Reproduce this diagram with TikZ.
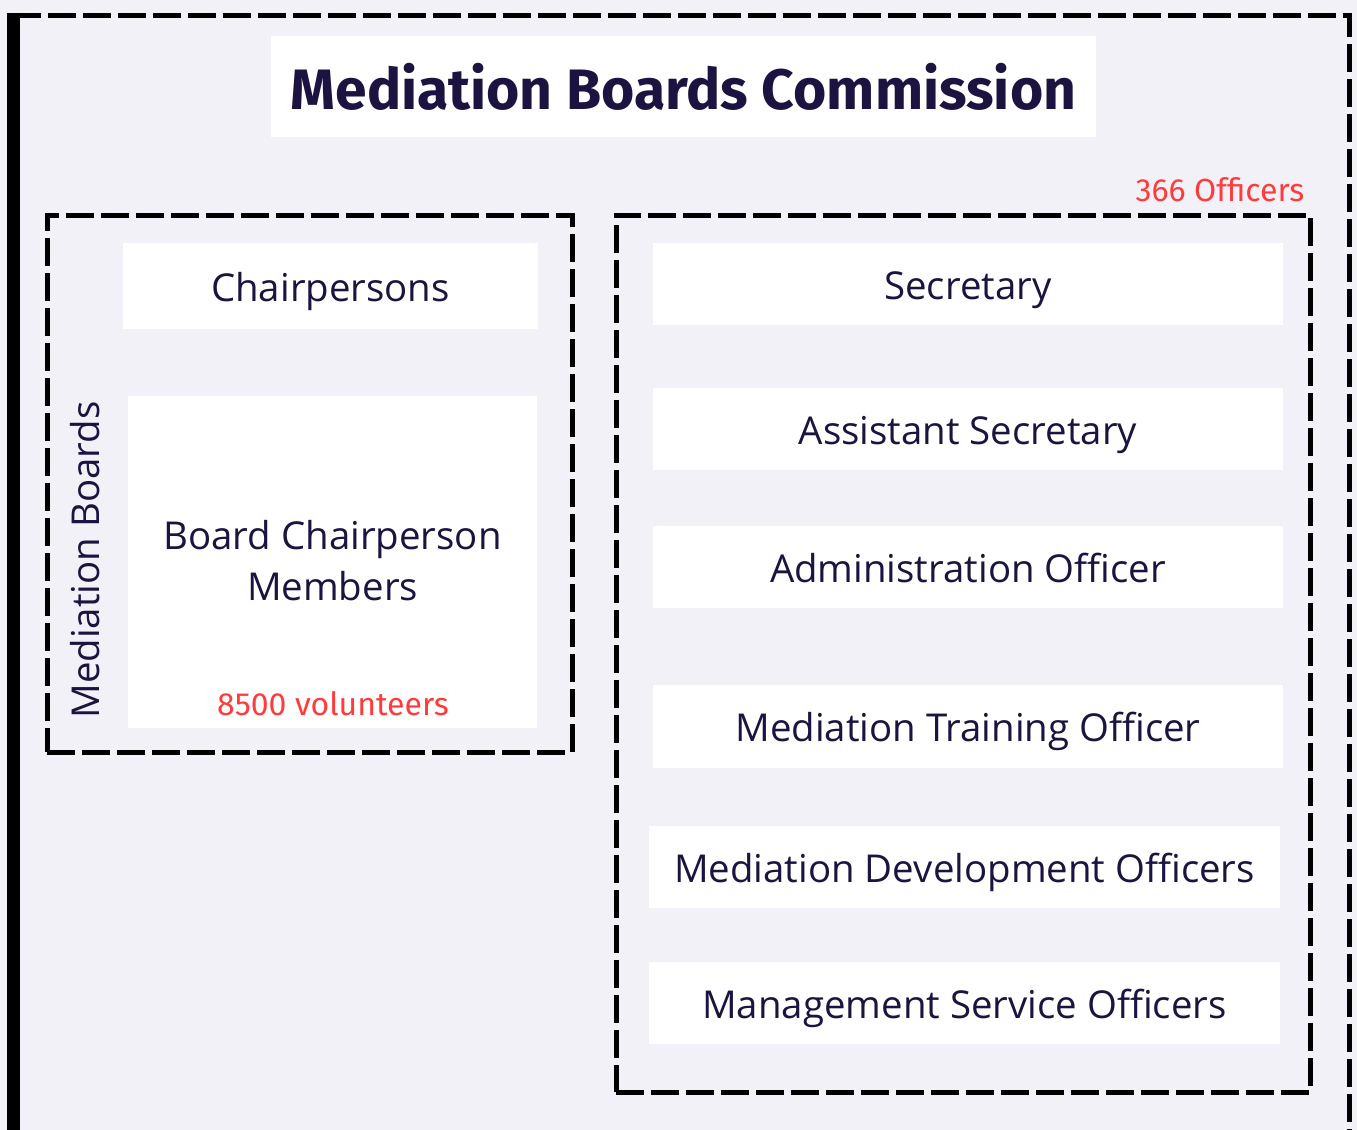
\documentclass[tikz,border=0pt]{standalone}
\usepackage{fontspec}
\setmainfont{Open Sans}
\newfontfamily\titlefont{Fira Sans}
\newfontfamily\countfont{Fira Sans}
\usepackage{tikz}
\usetikzlibrary{positioning}

\definecolor{inkblue}{HTML}{1C1340}
\definecolor{paper}{HTML}{F3F1F8}
\definecolor{countred}{HTML}{FF3B3B}

\tikzset{
  post/.style={fill=white, text=inkblue, inner sep=0pt, align=center,
    text height=15.2pt, text depth=0pt, font=\fontsize{19.2}{25.5}\selectfont},
  group/.style={draw=black, line width=2.5pt, dash pattern=on 14pt off 3.5pt},
  count/.style={text=countred, inner sep=0pt, font=\countfont\fontsize{16}{19}\selectfont},
}

\begin{document}
\begin{tikzpicture}[x=0.5pt, y=-0.5pt]
            % Background and outer frame
            \useasboundingbox[fill=paper] (0,0) rectangle (1357,1130);
            \begin{scope}
                \clip (0,0) rectangle (1357,1130);
                \draw[group] (13,15) -- (1349,15) -- (1349,1170);
                \draw[line width=6.5pt] (13.5,12.5) -- (13.5,1170);
            \end{scope}

            % Title
            \node[fill=white, text=inkblue, inner sep=0pt, minimum width=412.5pt, minimum height=50.5pt,
                font=\titlefont\bfseries\fontsize{28.5}{31}\selectfont] (title) at (683.5, 86.5) {Mediation Boards Commission};

            % Mediation boards
            \node[group, minimum width=262.5pt, minimum height=268.5pt] (boards) at (309.5, 483.5) {};
            \node[post, minimum width=207.5pt, minimum height=43pt] (chair) at (330.5, 286) {Chairpersons};
            \node[fill=white, inner sep=0pt, minimum width=204.5pt, minimum height=166pt] (board) at (332.5, 562) {};
            \node[text=inkblue, inner sep=0pt, align=center, font=\fontsize{19.2}{25.5}\selectfont] (boardtext) at (332.5, 561) {Board Chairperson\\Members};
            \node[count] (volunteers) at (333, 704) {8500 volunteers};
            \node[text=inkblue, inner sep=0pt, rotate=90, font=\fontsize{19.2}{24}\selectfont] (boardslabel) at (85, 560) {Mediation Boards};

            % Officers
            \node[count] (officers) at (1220, 190) {366 Officers};
            \node[group, minimum width=347pt, minimum height=438.5pt] (staff) at (963, 653.5) {};
            \node[post, minimum width=315pt, minimum height=41pt] (secretary) at (968, 284) {Secretary};
            \node[post, minimum width=315pt, minimum height=41pt] (assistant) at (968, 429) {Assistant Secretary};
            \node[post, minimum width=315pt, minimum height=41pt] (admin) at (968, 567) {Administration Officer};
            \node[post, minimum width=315pt, minimum height=41.5pt] (training) at (968, 726.5) {Mediation Training Officer};
            \node[post, minimum width=315.5pt, minimum height=41pt] (development) at (964.5, 867) {Mediation Development Officers};
            \node[post, minimum width=315.5pt, minimum height=41pt] (management) at (964.5, 1003) {Management Service Officers};
\end{tikzpicture}
\end{document}
